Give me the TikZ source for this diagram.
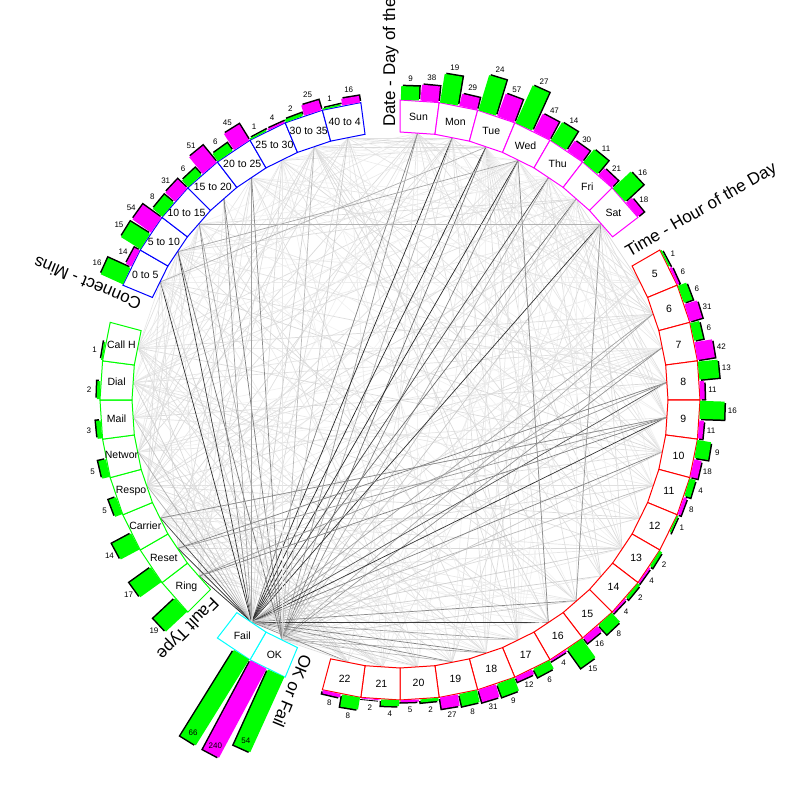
\documentclass[tikz,border=0pt]{standalone}
\usepackage{fontspec}
\setmainfont{Liberation Sans}
\usetikzlibrary{calc}

\definecolor{daycol}{RGB}{255,0,255}
\definecolor{hourcol}{RGB}{255,0,0}
\definecolor{okcol}{RGB}{0,255,255}
\definecolor{faultcol}{RGB}{0,255,0}
\definecolor{minscol}{RGB}{0,0,255}
\definecolor{failbar}{RGB}{0,255,0}
\definecolor{okbar}{RGB}{255,0,255}

\tikzset{
  box/.style={draw=#1, fill=white, line width=1pt},
  boxtext/.style={font=\fontsize{10.5}{12}\selectfont, inner sep=0pt},
  bartext/.style={font=\fontsize{8}{9}\selectfont, inner sep=0pt},
  grouptitle/.style={font=\fontsize{17}{20}\selectfont, inner sep=0pt, anchor=base west},
  link/.style={draw=black!#1, line width=0.7pt},
}

% slots that carry a box (no OK/Fail)
\def\slotlist{0,1,2,3,4,5,6,8,9,10,11,12,13,14,15,16,17,18,19,20,21,22,23,24,25,30,31,32,33,34,35,36,37,39,40,41,42,43,44,45,46}

% slot/green/magenta
\def\bardata{0/9/38, 1/19/29, 2/24/57, 3/27/47, 4/14/30, 5/11/21, 6/16/18,
  8/1/6, 9/6/31, 10/6/42, 11/13/11, 12/16/11, 13/9/18, 14/4/8, 15/1/0,
  16/2/4, 17/2/4, 18/8/16, 19/15/4, 20/6/12, 21/9/31, 22/8/27, 23/2/5,
  24/4/2, 25/8/8,
  30/19/0, 31/17/0, 32/14/0, 33/5/0, 34/5/0, 35/3/0, 36/2/0, 37/1/0,
  39/16/14, 40/15/54, 41/8/31, 42/6/51, 43/6/45, 44/1/4, 45/2/25, 46/1/16}

% box of one slot: slot, colour, label
\newcommand\catbox[3]{%
  \pgfmathsetmacro\angA{82.5-7.5*#1}
  \pgfmathsetmacro\angB{90-7.5*#1}
  \pgfmathsetmacro\angM{86.25-7.5*#1}
  \draw[box=#2] (\angA:268) -- (\angB:268) -- (\angB:300) -- (\angA:300) -- cycle;
  \node[boxtext] (box-#1) at (\angM:284) {#3};
}

% two bars of one slot: [label shift] slot, green, magenta
\newcommand\catbars[4][8]{%
  \pgfmathsetmacro\angM{86.25-7.5*#2}
  \ifnum#3>0
    \pgfmathsetmacro\barA{\angM+1.875}
    \pgfmathsetmacro\lenA{1.53*#3}
    \begin{scope}[rotate=\barA]
      \fill[black] (301.5,-10.5) rectangle ++(\lenA,18);
      \fill[failbar] (300,-9) rectangle ++(\lenA,18);
    \end{scope}
    \pgfmathsetmacro\labA{300+\lenA+#1}
    \node[bartext] (g-#2) at (\barA:\labA) {#3};
  \fi
  \ifnum#4>0
    \pgfmathsetmacro\barB{\angM-1.875}
    \pgfmathsetmacro\lenB{0.42*#4}
    \begin{scope}[rotate=\barB]
      \fill[black] (301.5,-10.5) rectangle ++(\lenB,18);
      \fill[okbar] (300,-9) rectangle ++(\lenB,18);
    \end{scope}
    \pgfmathsetmacro\labB{300+\lenB+#1}
    \node[bartext] (m-#2) at (\barB:\labB) {#4};
  \fi
}

\begin{document}
\begin{tikzpicture}[x=1pt,y=1pt]
\useasboundingbox (-400,-400) rectangle (400,400);
\clip (-400,-400) rectangle (400,400);

% inner anchor of every slot
\foreach \k in {0,...,47}
  \coordinate (in-\k) at ({86.25-7.5*\k}:267);

% faint links between the groups
\foreach \i in \slotlist {
  \foreach \j in \slotlist {
    \pgfmathtruncatemacro\gi{(\i>7)+(\i>26)+(\i>29)+(\i>38)}
    \pgfmathtruncatemacro\gj{(\j>7)+(\j>26)+(\j>29)+(\j>38)}
    \pgfmathtruncatemacro\hh{mod(\i*37+\j*71+mod(\i*\j,97)*13,100)}
    \pgfmathtruncatemacro\lv{5+mod(\hh*7,11)}
    \ifnum\i<\j \ifnum\gi<\gj \ifnum\hh<45
      \draw[link=\lv] (in-\i) -- (in-\j);
    \fi\fi\fi
  }
}

% links of OK and Fail
\foreach \k/\g/\m in \bardata {
  \ifnum\g>0
    \pgfmathtruncatemacro\lv{min(85,10+4.5*\g)}
    \draw[link=\lv] (in-28) -- (in-\k);
  \fi
  \ifnum\m>0
    \pgfmathtruncatemacro\lv{min(65,6+0.9*\m)}
    \draw[link=\lv] (in-27) -- (in-\k);
  \fi
}
\foreach \a/\b/\lv in {3/19/45, 6/18/40, 31/11/50, 30/12/50, 32/12/45,
  31/12/40, 40/3/35, 41/6/30, 39/2/30, 30/11/40}
  \draw[link=\lv] (in-\a) -- (in-\b);

% boxes
\foreach \lbl [count=\n from 0] in {Sun,Mon,Tue,Wed,Thu,Fri,Sat}
  \catbox{\n}{daycol}{\lbl};
\foreach \h in {5,...,22} {
  \pgfmathtruncatemacro\k{\h+3}
  \catbox{\k}{hourcol}{\h}
}
\catbox{27}{okcol}{OK}
\catbox{28}{okcol}{Fail}
\foreach \lbl [count=\n from 30] in {Ring,Reset,Carrier,Respo,Networ,Mail,Dial,Call H}
  \catbox{\n}{faultcol}{\lbl};
\foreach \lbl [count=\n from 39] in {0 to 5,5 to 10,10 to 15,15 to 20,20 to 25,25 to 30,30 to 35,40 to 4}
  \catbox{\n}{minscol}{\lbl};

% bars
\foreach \k/\g/\m in \bardata
  \catbars{\k}{\g}{\m};
\catbars[-9]{27}{54}{240}
\catbars[-9]{28}{66}{0}

% group titles
\node[grouptitle, rotate=90] (title-day) at ($(90:273)+(180:5)$) {Date - Day of the};
\node[grouptitle, rotate=30] (title-hour) at ($(30:270)+(120:9)$) {Time - Hour of the Day};
\node[grouptitle, rotate=-112.5] (title-ok) at ($(-112.5:272)+(-22.5:6)$) {OK or Fail};
\node[grouptitle, rotate=-135] (title-fault) at ($(-135:272)+(-45:6)$) {Fault Type};
\node[grouptitle, rotate=157.5] (title-mins) at ($(157.5:276)+(247.5:6)$) {Connect - Mins};
\end{tikzpicture}
\end{document}
